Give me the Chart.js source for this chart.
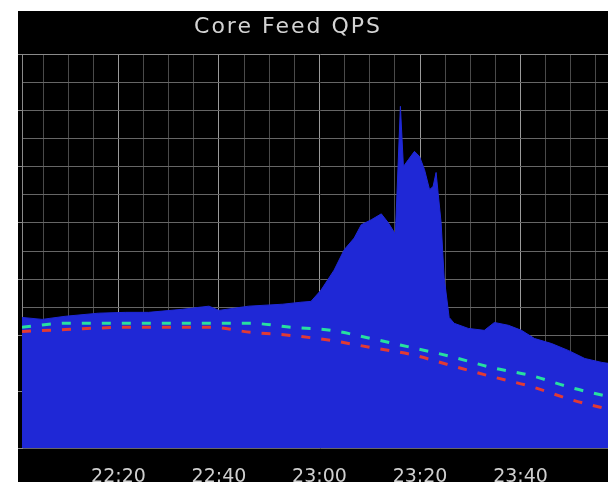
<!DOCTYPE html>
<html>
<head>
<meta charset="utf-8">
<script src="https://cdn.jsdelivr.net/npm/chart.js@4.4.1/dist/chart.umd.min.js"></script>
<style>
  html, body { margin: 0; padding: 0; background: #fff; overflow: hidden; width: 608px; height: 482px; }
  #panel { position: absolute; left: 18px; top: 11px; width: 600px; height: 495px; background: #000; }
  #qps-chart { display: block; }
</style>
</head>
<body>
<div id="panel"><canvas id="qps-chart" width="600" height="495"></canvas></div>
<script>
// Core Feed QPS, x in minutes after 22:00
var chartTitle = 'Core Feed QPS';
var timeLabels = ['22:20', '22:40', '23:00', '23:20', '23:40'];
var labelMinutes = [20, 40, 60, 80, 100];

var qpsMinutes = [0.8, 4.8, 9.4, 16.0, 21.4, 26.0, 32.8, 38.0, 40.0, 45.9, 52.7, 56.3, 58.3, 60.3, 62.9, 64.9,
    66.9, 68.3, 70.3, 72.3, 73.7, 75.1, 76.1, 76.7, 77.7, 78.9, 79.9, 80.9, 81.9, 82.6, 83.2, 83.6, 84.2, 84.8,
    85.8, 86.8, 89.6, 92.8, 94.8, 97.6, 100.2, 102.8, 106.2, 109.6, 112.8, 116.2, 117.8, 119.4];
var qpsValues = [46.4, 45.7, 46.8, 47.9, 48.2, 48.2, 49.3, 50.4, 48.9, 50.4, 51.1, 51.8, 52.1, 56.1, 63.2, 70.4,
    74.6, 79.3, 81.1, 83.2, 80.0, 76.0, 121.4, 100.0, 102.5, 105.4, 103.6, 98.9, 91.8, 92.9, 97.9, 90.7, 80.0, 60.7,
    46.4, 44.3, 42.5, 41.8, 44.6, 43.6, 41.8, 38.9, 37.1, 34.6, 31.8, 30.4, 30.0, 29.6];

var trendMinutes = [0.8, 9.4, 22.4, 38.4, 46.3, 54.3, 62.3, 70.3, 78.3, 86.2, 94.2, 102.2, 110.2, 117.8, 119.4];
var upperTrend = [42.9, 44.3, 44.3, 44.3, 44.3, 42.9, 41.8, 38.9, 35.7, 32.5, 28.6, 25.7, 21.4, 18.2, 17.6];
var lowerTrend = [41.4, 42.1, 42.9, 42.9, 41.1, 40.0, 38.2, 35.7, 33.2, 29.3, 25.4, 21.8, 17.1, 13.6, 12.9];

function toPoints(xs, ys) {
    return xs.map(function (x, i) { return { x: x, y: ys[i] }; });
}

var gridMinutes = [];
for (var m = 5; m <= 115; m += 5) gridMinutes.push(m);

var titlePlugin = {
    id: 'panelTitle',
    afterDraw: function (chart) {
        var ctx = chart.ctx;
        ctx.save();
        ctx.font = '22px "DejaVu Sans"';
        ctx.letterSpacing = '2px';
        ctx.fillStyle = '#d4d4d4';
        ctx.textAlign = 'center';
        ctx.textBaseline = 'alphabetic';
        ctx.fillText(chartTitle, 270, 22);
        ctx.restore();
    }
};

var qpsChart = new Chart(document.getElementById('qps-chart'), {
    type: 'line',
    data: {
        datasets: [{
            label: 'upper',
            data: toPoints(trendMinutes, upperTrend),
            borderColor: '#27e0a0',
            borderWidth: 3,
            borderDash: [9, 11],
            cubicInterpolationMode: 'monotone',
            pointRadius: 0,
            fill: false,
            order: 0
        }, {
            label: 'lower',
            data: toPoints(trendMinutes, lowerTrend),
            borderColor: '#e23a34',
            borderWidth: 3,
            borderDash: [9, 11],
            cubicInterpolationMode: 'monotone',
            pointRadius: 0,
            fill: false,
            order: 1
        }, {
            label: 'QPS',
            data: toPoints(qpsMinutes, qpsValues),
            borderColor: '#1f28d6',
            backgroundColor: '#1f28d6',
            borderWidth: 1,
            tension: 0,
            pointRadius: 0,
            fill: 'origin',
            order: 2
        }]
    },
    options: {
        responsive: false,
        animation: false,
        layout: { padding: { top: 43, left: 0, right: 0, bottom: 0 } },
        plugins: {
            legend: { display: false },
            tooltip: { enabled: false },
            title: { display: false }
        },
        scales: {
            x: {
                type: 'linear',
                min: 0.8,
                max: 119.4,
                afterBuildTicks: function (axis) {
                    axis.ticks = gridMinutes.map(function (v) { return { value: v }; });
                },
                border: { display: false },
                grid: {
                    drawTicks: false,
                    color: function (ctx) {
                        return ctx.tick && ctx.tick.value % 20 === 0 ? '#9a9a9a' : '#4a4a4a';
                    }
                },
                ticks: {
                    autoSkip: false,
                    maxRotation: 0,
                    padding: 17.6,
                    color: '#cfcfcf',
                    font: { family: 'DejaVu Sans', size: 19 },
                    callback: function (value) {
                        var i = labelMinutes.indexOf(value);
                        return i >= 0 ? timeLabels[i] : '';
                    }
                }
            },
            y: {
                min: 0,
                max: 140,
                border: { display: true, color: '#8a8a8a' },
                grid: {
                    drawTicks: true,
                    tickLength: 4,
                    color: function (ctx) {
                        return ctx.tick && ctx.tick.value === 140 ? '#8a8a8a' : '#666666';
                    },
                    tickColor: function (ctx) {
                        return ctx.tick && ctx.tick.value % 20 === 0 ? '#8a8a8a' : 'rgba(0,0,0,0)';
                    }
                },
                ticks: { display: false, stepSize: 10 }
            }
        }
    },
    plugins: [titlePlugin]
});
</script>
</body>
</html>
